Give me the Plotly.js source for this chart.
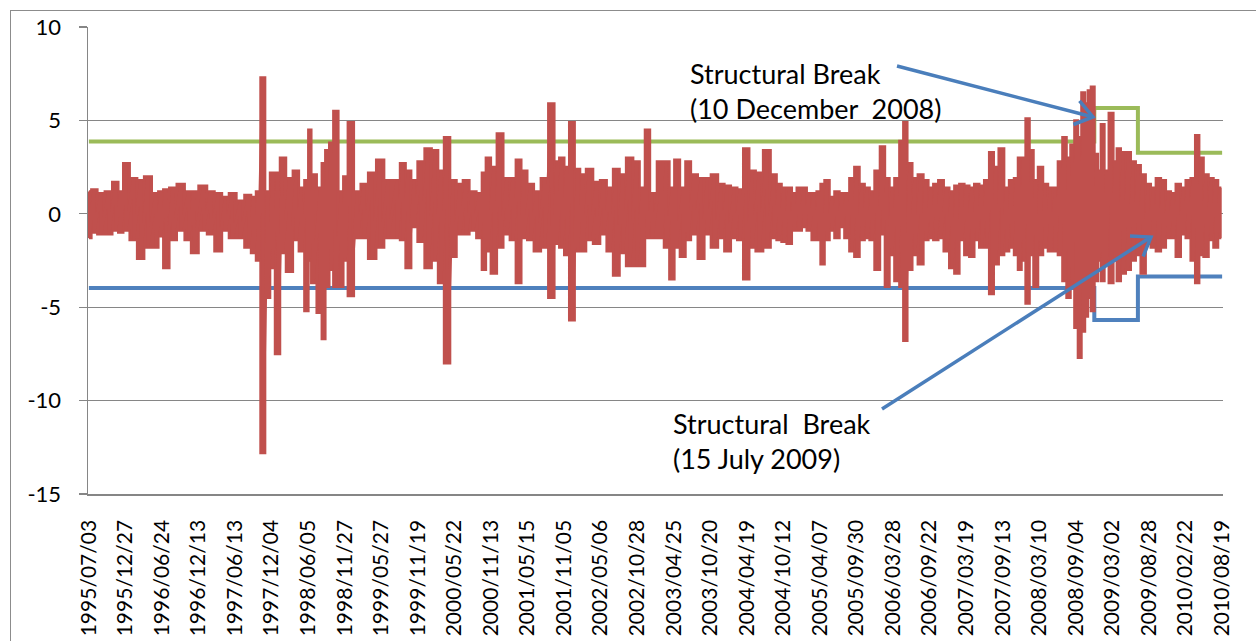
<!DOCTYPE html>
<html>
<head>
<meta charset="utf-8">
<script src="https://cdn.plot.ly/plotly-3.0.1.min.js"></script>
<style>
  html, body { margin: 0; padding: 0; background: #fff; overflow: hidden; }
  #frame { position: absolute; left: 10px; top: 10px; width: 1260px; height: 650px; border: 1.5px solid #8c8c8c; box-sizing: border-box; pointer-events: none; z-index: 5; }
  #chart { position: absolute; left: 0; top: 0; width: 1256px; height: 641px; }
</style>
</head>
<body>
<div id="chart"></div>
<div id="frame"></div>
<script>
// Category (date) tick labels, one every 125 trading days
const dateLabels = ["1995/07/03","1995/12/27","1996/06/24","1996/12/13","1997/06/13","1997/12/04",
  "1998/06/05","1998/11/27","1999/05/27","1999/11/19","2000/05/22","2000/11/13","2001/05/15",
  "2001/11/05","2002/05/06","2002/10/28","2003/04/25","2003/10/20","2004/04/19","2004/10/12",
  "2005/04/07","2005/09/30","2006/03/28","2006/09/22","2007/03/19","2007/09/13","2008/03/10",
  "2008/09/04","2009/03/02","2009/08/28","2010/02/22","2010/08/19"];
const labelStep = 125;
const lastDay = 3875;
const yTickVals = [-15, -10, -5, 0, 5, 10];
const yTickText = ["-15", "-10", "-5", "0", "5", "10"];

const sampleDay = [0,17,41,68,92,109,126,153,177,201,229,246,263,287,314,341,358,392,416,443,
  467,491,518,546,563,580,594,611,628,645,662,686,709,727,747,754,767,791,802,815,
  829,843,863,877,894,918,941,969,996,1023,1054,1074,1092,1112,1136,1160,1184,1204,1225,1245,
  1269,1289,1313,1337,1351,1364,1385,1405,1429,1450,1470,1487,1511,1532,1559,1583,1600,1617,1634,1651,
  1671,1688,1712,1736,1760,1781,1804,1825,1849,1873,1893,1910,1927,1958,1975,1995,2009,2033,2047,2070,
  2094,2115,2139,2163,2183,2207,2227,2248,2268,2292,2319,2343,2360,2377,2395,2412,2429,2446,2463,2480,
  2497,2507,2524,2541,2558,2575,2592,2609,2626,2644,2661,2678,2695,2715,2729,2746,2763,2780,2790,2807,
  2824,2845,2862,2879,2896,2913,2933,2951,2968,2985,3002,3019,3036,3053,3070,3087,3101,3121,3138,3155,
  3172,3182,3196,3210,3223,3237,3254,3271,3288,3305,3322,3336,3350,3363,3377,3387,3401,3411,3421,3432,
  3445,3455,3466,3479,3496,3510,3520,3537,3554,3571,3588,3605,3622,3640,3657,3674,3691,3708,3725,3742,
  3759,3776,3790,3803,3820,3837,3854,3868];
const highs = [1.2,1.3,1.1,1.2,1.7,1.2,2.7,1.9,1.8,2.0,1.1,1.2,1.3,1.4,1.6,1.2,1.2,1.5,1.2,1.1,
  0.9,1.1,0.7,1.0,0.9,1.2,7.3,1.2,2.2,2.2,3.0,1.9,2.3,1.4,1.8,4.5,2.1,1.4,2.7,3.4,
  3.8,5.5,1.2,2.0,4.9,1.2,1.6,2.2,2.9,1.8,1.8,2.7,2.3,1.8,2.8,3.5,3.4,2.3,4.1,1.8,
  1.6,1.8,1.2,1.1,2.2,3.0,2.5,4.3,1.9,1.9,2.9,2.3,1.6,1.2,1.9,5.9,2.8,3.0,2.5,4.9,
  2.4,2.1,2.4,1.7,1.8,1.4,2.4,2.1,3.0,2.8,1.4,4.5,1.1,2.8,2.8,1.4,2.9,1.4,2.8,2.1,
  1.9,1.9,2.1,1.6,1.5,1.4,1.3,3.5,2.3,2.2,3.4,2.1,1.6,1.4,1.4,1.1,1.4,1.4,1.1,1.1,
  1.2,1.6,1.8,0.9,1.2,1.1,1.1,1.9,2.5,1.6,1.4,1.2,2.3,3.6,1.9,1.4,1.9,3.9,4.9,2.7,
  1.9,2.1,1.8,1.4,1.6,1.8,1.4,1.2,1.5,1.6,1.5,1.4,1.6,1.5,1.8,3.3,2.5,3.5,1.4,1.8,
  1.9,3.0,3.0,5.1,3.4,1.8,2.5,1.6,1.4,1.4,2.8,4.1,3.0,3.7,5.0,4.1,6.5,5.9,6.6,6.8,
  3.2,2.3,4.8,2.3,5.4,2.8,3.5,3.3,3.3,2.8,2.6,2.1,1.6,1.4,1.9,1.8,1.2,1.1,1.6,1.4,
  1.8,1.9,4.2,3.0,2.1,1.9,1.8,1.4];
const lows = [-1.3,-1.0,-1.1,-1.1,-0.9,-1.0,-0.9,-1.4,-2.4,-1.8,-1.8,-1.2,-2.9,-1.4,-0.9,-1.4,-2.1,-0.9,-1.1,-2.0,
  -0.9,-1.3,-1.3,-1.8,-2.1,-2.5,-12.8,-4.5,-2.9,-7.5,-2.1,-3.1,-1.4,-2.0,-5.2,-2.5,-3.7,-5.3,-6.7,-3.9,
  -3.0,-3.9,-3.9,-2.5,-4.4,-1.3,-1.3,-2.4,-1.8,-1.3,-1.3,-1.4,-2.9,-0.7,-1.5,-2.9,-2.5,-3.7,-8.0,-2.3,
  -1.1,-1.1,-0.9,-1.3,-3.0,-2.0,-3.2,-1.8,-1.1,-1.4,-3.7,-1.3,-1.4,-2.0,-1.8,-4.5,-1.6,-1.8,-2.2,-5.7,
  -2.0,-2.0,-1.4,-1.6,-1.1,-2.0,-3.3,-2.1,-2.8,-2.8,-2.8,-1.3,-1.3,-1.3,-1.8,-3.5,-1.8,-2.3,-1.4,-1.1,
  -2.4,-1.1,-1.8,-1.3,-2.0,-1.3,-1.4,-3.5,-1.8,-2.0,-1.8,-1.3,-1.4,-1.5,-1.6,-0.9,-0.9,-0.7,-0.9,-1.4,
  -1.4,-2.7,-1.4,-0.9,-1.3,-0.7,-1.3,-2.0,-2.3,-1.4,-1.3,-1.4,-3.0,-1.1,-3.9,-2.2,-3.6,-3.9,-6.8,-3.0,
  -2.2,-2.7,-1.4,-1.3,-1.4,-1.3,-2.0,-2.9,-3.2,-1.4,-2.2,-2.3,-1.4,-1.8,-1.8,-4.3,-2.7,-2.2,-2.0,-1.8,
  -2.2,-3.0,-2.5,-4.8,-2.2,-3.9,-2.2,-1.8,-2.0,-2.0,-2.2,-3.6,-4.5,-3.8,-6.1,-7.7,-6.3,-5.5,-4.5,-5.2,
  -3.6,-2.5,-3.6,-2.7,-3.7,-2.5,-3.6,-3.2,-3.0,-2.5,-2.2,-3.2,-1.6,-1.8,-2.0,-1.8,-1.3,-1.3,-2.3,-1.1,
  -1.3,-2.5,-3.7,-2.2,-2.3,-1.4,-1.8,-1.3];

// Threshold bands with two structural breaks
const bandDays  = [0, 3438, 3587, lastDay];
const upperBand = [3.87, 5.67, 3.27, 3.27];
const lowerBand = [-3.97, -5.68, -3.35, -3.35];

const redColor = '#C0504D';
const redX = [], redY = [];
for (let k = 0; k < sampleDay.length; k++) {
  redX.push(sampleDay[k], sampleDay[k]);
  redY.push(highs[k], lows[k]);
}
// closed envelope (highs forward, lows backward) to give the dense look of the daily series
const envX = sampleDay.concat(sampleDay.slice().reverse());
const envY = highs.concat(lows.slice().reverse());

const traces = [
  { x: bandDays, y: upperBand, mode: 'lines', line: { color: '#9BBB59', width: 4, shape: 'hv' }, hoverinfo: 'skip' },
  { x: bandDays, y: lowerBand, mode: 'lines', line: { color: '#4F81BD', width: 4, shape: 'hv' }, hoverinfo: 'skip' },
  { x: envX, y: envY, mode: 'lines', fill: 'toself', fillcolor: redColor, line: { color: redColor, width: 2.5, shape: 'hvh' }, hoverinfo: 'skip' },
  { x: redX, y: redY, mode: 'lines', line: { color: redColor, width: 3 }, hoverinfo: 'skip' }
];

// Plot geometry (pixels) used only to place the decorative arrows
const L = 88, R = 1223, T = 27, B = 494;
const xr = [-3, lastDay + 3], yr = [-15, 10];
function dx(px) { return xr[0] + (px - L) / (R - L) * (xr[1] - xr[0]); }
function dy(py) { return yr[1] - (py - T) / (B - T) * (yr[1] - yr[0]); }
const arrowColor = '#4A7EBB';
function arrowShapes(x0, y0, x1, y1) {
  const ang = Math.atan2(y1 - y0, x1 - x0);
  const len = 21, half = 0.62;
  const a1 = ang + Math.PI - half, a2 = ang + Math.PI + half;
  const l = { color: arrowColor, width: 3.5 };
  return [
    { type: 'line', xref: 'x', yref: 'y', x0: dx(x0), y0: dy(y0), x1: dx(x1), y1: dy(y1), line: l },
    { type: 'path', xref: 'x', yref: 'y',
      path: 'M' + dx(x1 + len * Math.cos(a1)) + ',' + dy(y1 + len * Math.sin(a1)) +
            ' L' + dx(x1) + ',' + dy(y1) +
            ' L' + dx(x1 + len * Math.cos(a2)) + ',' + dy(y1 + len * Math.sin(a2)),
      line: l }
  ];
}
const shapes = [].concat(arrowShapes(897, 66, 1093, 117), arrowShapes(882, 409, 1151, 237));

const font = 'Lato, "Open Sans", sans-serif';
const layout = {
  width: 1256, height: 641,
  margin: { l: L, r: 1256 - R, t: T, b: 641 - B },
  paper_bgcolor: '#fff', plot_bgcolor: '#fff',
  showlegend: false,
  font: { family: font, color: '#000' },
  xaxis: {
    range: xr, showgrid: false, zeroline: false,
    showline: true, linecolor: '#868686', linewidth: 1.5,
    tickmode: 'array', tickvals: dateLabels.map((_, i) => i * labelStep), ticktext: dateLabels,
    tickangle: -90, ticks: '', ticklabelstandoff: 16,
    tickfont: { family: font, size: 21, color: '#000' }
  },
  yaxis: {
    range: yr, tickmode: 'array', tickvals: yTickVals, ticktext: yTickText,
    showgrid: true, gridcolor: '#868686', gridwidth: 1.3, zeroline: false,
    showline: true, linecolor: '#868686', linewidth: 1.5,
    ticks: 'outside', ticklen: 8, tickcolor: '#868686', tickwidth: 1.3,
    ticklabelstandoff: 13,
    tickfont: { family: font, size: 22, color: '#000' }
  },
  shapes: shapes,
  annotations: [
    { xref: 'paper', yref: 'paper', x: (688 - L) / (R - L), y: (B - 91) / (B - T), xanchor: 'left', yanchor: 'middle',
      align: 'left', showarrow: false, text: 'Structural Break<br>(10 December\u00A0 2008)',
      font: { family: font, size: 27, color: '#000' } },
    { xref: 'paper', yref: 'paper', x: (671 - L) / (R - L), y: (B - 441) / (B - T), xanchor: 'left', yanchor: 'middle',
      align: 'left', showarrow: false, text: 'Structural\u00A0 Break<br>(15 July 2009)',
      font: { family: font, size: 27, color: '#000' } }
  ]
};

Plotly.newPlot('chart', traces, layout, { staticPlot: true, displayModeBar: false });
</script>
</body>
</html>
